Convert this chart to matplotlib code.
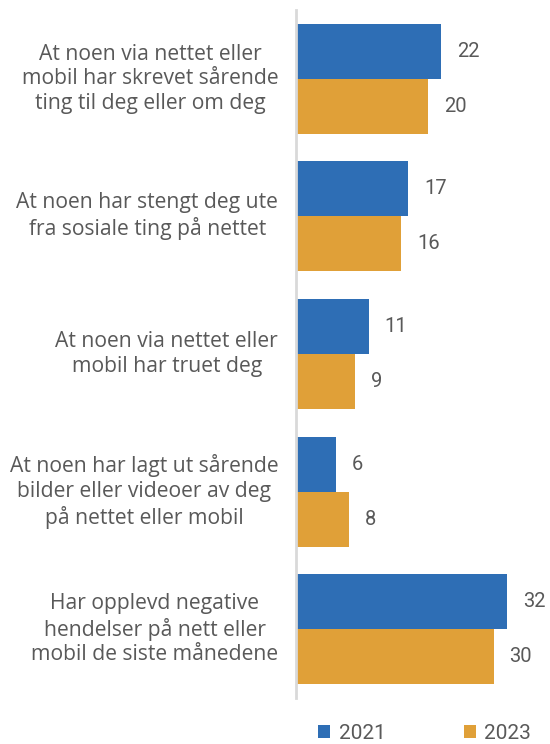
import matplotlib.pyplot as plt
import numpy as np

# Andel som har opplevd ulike negative hendelser på nett (prosent)
categories = [
    'At noen via nettet eller\nmobil har skrevet sårende\nting til deg eller om deg',
    'At noen har stengt deg ute\nfra sosiale ting på nettet',
    'At noen via nettet eller\nmobil har truet deg',
    'At noen har lagt ut sårende\nbilder eller videoer av deg\npå nettet eller mobil',
    'Har opplevd negative\nhendelser på nett eller\nmobil de siste månedene',
]
values_2021 = [22, 17, 11, 6, 32]
values_2023 = [20, 16, 9, 8, 30]
series_labels = ['2021', '2023']

blue = '#2E6EB5'
orange = '#E0A038'
text_grey = '#595959'

plt.rcParams['font.family'] = ['Roboto', 'DejaVu Sans']

fig = plt.figure(figsize=(5.5, 7.44), dpi=100)
ax = fig.add_axes([296 / 550, 46 / 744, 234 / 550, 688 / 744])

y = np.arange(len(categories))
h = 0.4
ax.barh(y - h / 2, values_2021, height=h, color=blue, label=series_labels[0])
ax.barh(y + h / 2, values_2023, height=h, color=orange, label=series_labels[1])

# value labels right of each bar
for i in range(len(categories)):
    ax.text(values_2021[i] + 2.4, y[i] - h / 2, str(values_2021[i]),
            ha='left', va='center', fontsize=14.5, color=text_grey)
    ax.text(values_2023[i] + 2.4, y[i] + h / 2, str(values_2023[i]),
            ha='left', va='center', fontsize=14.5, color=text_grey)

# category labels, centred block to the left of the axis
for i, cat in enumerate(categories):
    ax.text(-2.7, y[i], cat, ha='right', va='center', multialignment='center',
            fontsize=15.2, color=text_grey, linespacing=1.22,
            family=['Open Sans', 'DejaVu Sans'])

ax.set_xlim(0, 35.5)
ax.set_ylim(len(categories) - 0.5, -0.5)
ax.set_xticks([])
ax.set_yticks([])
for side in ['top', 'right', 'bottom']:
    ax.spines[side].set_visible(False)
ax.spines['left'].set_color('#D9D9D9')
ax.spines['left'].set_linewidth(2)

fig.legend(loc='lower left', bbox_to_anchor=(299 / 550, -0.024), ncol=2,
           frameon=False, fontsize=15, handlelength=0.6, handleheight=0.6,
           handletextpad=0.4, columnspacing=3.75, labelcolor=text_grey)

plt.savefig('out.png', dpi=100, facecolor='white')
plt.close()
